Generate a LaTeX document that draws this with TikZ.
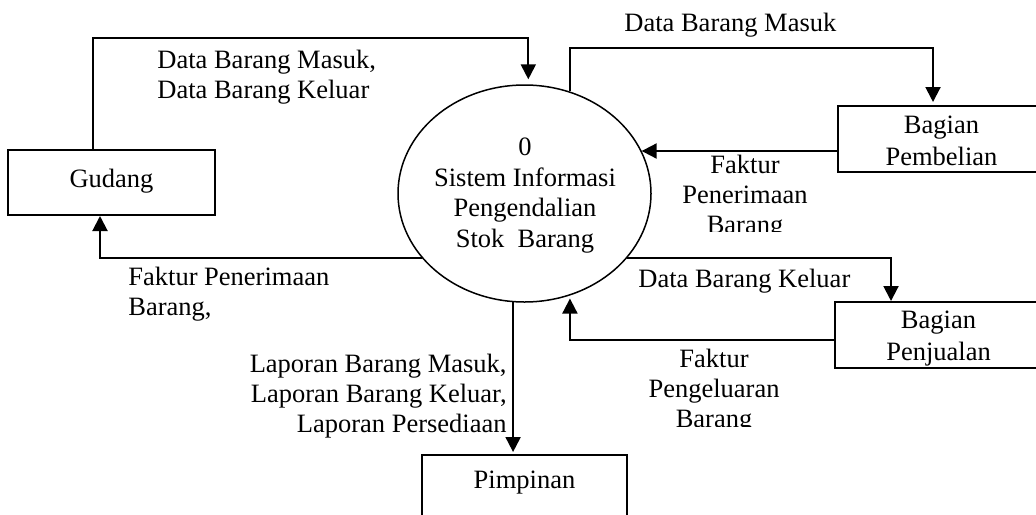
\documentclass[tikz,border=0pt]{standalone}
\usepackage{fontspec}
\setmainfont{Liberation Serif}
\usetikzlibrary{arrows.meta,shapes.geometric}
\newcommand\vstrut[2]{\rule[-#2]{0pt}{\dimexpr#1+#2\relax}}
\newcommand\topstr{\rule{0pt}{10pt}}
\begin{document}
\begin{tikzpicture}[x=0.5pt,y=-0.5pt,
  every node/.style={font=\fontsize{13.25pt}{15pt}\selectfont, inner sep=0pt},
  entity/.style={draw, line width=1pt, minimum width=103.5pt, minimum height=33pt, align=center,
    font=\fontsize{13.25pt}{16.25pt}\selectfont},
  procshape/.style={draw, ellipse, line width=0.75pt, minimum width=126.5pt, minimum height=108.5pt},
  proctext/.style={align=center, font=\fontsize{13.25pt}{15.35pt}\selectfont},
  flow/.style={line width=1pt, -{Triangle[length=7.5pt,width=7.5pt]}},
  lblleft/.style={align=left, anchor=north west},
  lblright/.style={align=right, anchor=north east},
  lblcenter/.style={align=center, anchor=north}]
\clip (0,0) rectangle (1036,514);

% processes and entities
\node[procshape] (proc) at (524.5,193.5) {};
\node[proctext, anchor=north] (proctxt) at (525,135)
  {\topstr 0\\Sistem Informasi\\Pengendalian\\Stok~~Barang};
\node[entity, minimum height=32.5pt] (gud) at (111.5,182.5) {\vstrut{10pt}{5.5pt}Gudang};
\node[entity] (pemb) at (941.5,139) {\rule{0pt}{13.25pt}Bagian\\Pembelian\rule[-3pt]{0pt}{3pt}};
\node[entity] (penj) at (938.5,335) {\rule{0pt}{12.75pt}Bagian\\Penjualan\rule[-3.5pt]{0pt}{3.5pt}};
\node[entity, minimum width=102.5pt] (pim) at (524.5,488) {\vstrut{10pt}{10pt}Pimpinan};

% routing levels
\coordinate (r1) at (0,38);
\coordinate (r2) at (0,48);
\coordinate (r3) at (0,151);
\coordinate (r4) at (0,258);
\coordinate (r6) at (0,340);
\coordinate (gout) at ([xshift=-9.25pt]gud.north);
\coordinate (gin) at ([xshift=-5.75pt]gud.south);
\coordinate (pin) at ([xshift=-4.25pt]pemb.north);
\coordinate (pjin) at ([xshift=-23.75pt]penj.north);

% connectors
\draw[flow, shorten >=2.5pt] (gout) |- (r1 -| proc.88.15) -- (proc.88.15);
\draw[flow, shorten >=1.5pt] (proc.66.33) |- (r2 -| pin) -- (pin);
\draw[flow] (pemb.west |- r3) -- (r3 -| proc.20.04);
\draw[flow] (r4 -| proc.212.38) -| (gin);
\draw[flow] (r4 -| proc.-32.38) -| (pjin);
\draw[flow, shorten >=1.5pt] (penj.west |- r6) -| (proc.-66.33);
\draw[flow, shorten >=1pt] (proc.-96.07) -- (proc.-96.07 |- pim.north);

% labels
\node[lblleft] (l1) at (157,48) {\topstr Data Barang Masuk,\\Data Barang Keluar};
\node[anchor=base west] (l2) at (624,32) {Data Barang Masuk};
\begin{scope}
  \clip (640,140) rectangle (836,231.5);
  \node[lblcenter] (l3) at (745,153) {\topstr Faktur\\Penerimaan\\Barang};
\end{scope}
\node[anchor=base west] (l4) at (638,287) {Data Barang Keluar};
\begin{scope}
  \clip (640,345) rectangle (830,426);
  \node[lblcenter] (l5) at (714,347) {\topstr Faktur\\Pengeluaran\\Barang};
\end{scope}
\node[lblleft] (l6) at (128,265) {\topstr Faktur Penerimaan\\Barang,};
\node[lblright] (l7) at (507,352) {\topstr Laporan Barang Masuk,\\Laporan Barang Keluar,\\Laporan Persediaan};
\end{tikzpicture}
\end{document}
